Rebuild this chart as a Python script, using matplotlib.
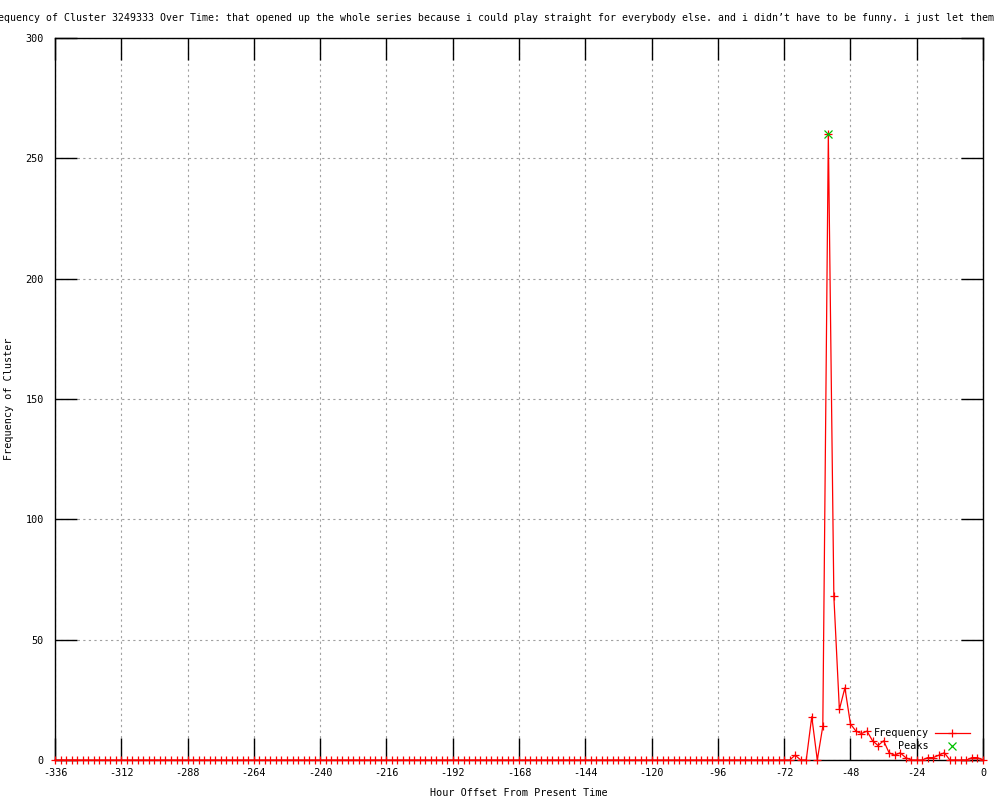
import matplotlib
matplotlib.use('Agg')
import matplotlib.pyplot as plt

# hours before now, one bin every 2 hours
hours = list(range(-336, 1, 2))
freq = [0] * 132 + [
    0, 0, 2, 0, 0, 18, 0, 14, 260, 68, 21, 30, 15, 12, 11, 12, 8, 6, 8,
    3, 2, 3, 1, 0, 0, 0, 1, 1, 2, 3, 0, 0, 0, 0, 1, 1, 0,
]
peak_hours = [-56]
peak_freq = [260]

x_ticks = list(range(-336, 1, 24))
y_ticks = [0, 50, 100, 150, 200, 250, 300]

title = ("Frequency of Cluster 3249333 Over Time: that opened up the whole series "
         "because i could play straight for everybody else. and i didn\u2019t have "
         "to be funny. i just let them")

plt.rcParams['font.family'] = ['DejaVu Sans Mono']
plt.rcParams['font.size'] = 7.3
plt.rcParams['axes.unicode_minus'] = False

fig = plt.figure(figsize=(10, 8), dpi=100)
ax = fig.add_axes([0.055, 0.05, 0.928, 0.9025])

ax.plot(hours, freq, color='red', lw=0.9, marker='+', ms=6, mew=0.9,
        label='Frequency', clip_on=False, zorder=3)
ax.plot(peak_hours, peak_freq, ls='none', color='#00c000', marker='x', ms=6,
        mew=0.9, label='Peaks', clip_on=False, zorder=4)

ax.set_xlim(-336, 0)
ax.set_ylim(0, 300)
ax.set_xticks(x_ticks)
ax.set_yticks(y_ticks)
ax.tick_params(direction='in', length=16, width=1, top=True, right=True,
               labelsize=7.3, color='black')
ax.tick_params(axis='x', pad=6)
ax.tick_params(axis='y', pad=8)
ax.grid(True, color='#a0a0a0', ls=(0, (2, 3)), lw=0.8)
ax.set_axisbelow(True)
for s in ax.spines.values():
    s.set_linewidth(1)

ax.set_xlabel('Hour Offset From Present Time', labelpad=7)
ax.set_ylabel('Frequency of Cluster', labelpad=8)

# the title is wider than the figure, like the original
fig.text(0.994, 0.9775, title, ha='right', va='center', fontsize=7.15)

ax.legend(loc='lower right', bbox_to_anchor=(0.991, 0.005), frameon=False,
          markerfirst=False, handlelength=3.4, handletextpad=0.6,
          labelspacing=0.3, borderpad=0, fontsize=7.3)

fig.savefig('out.png', dpi=100)
